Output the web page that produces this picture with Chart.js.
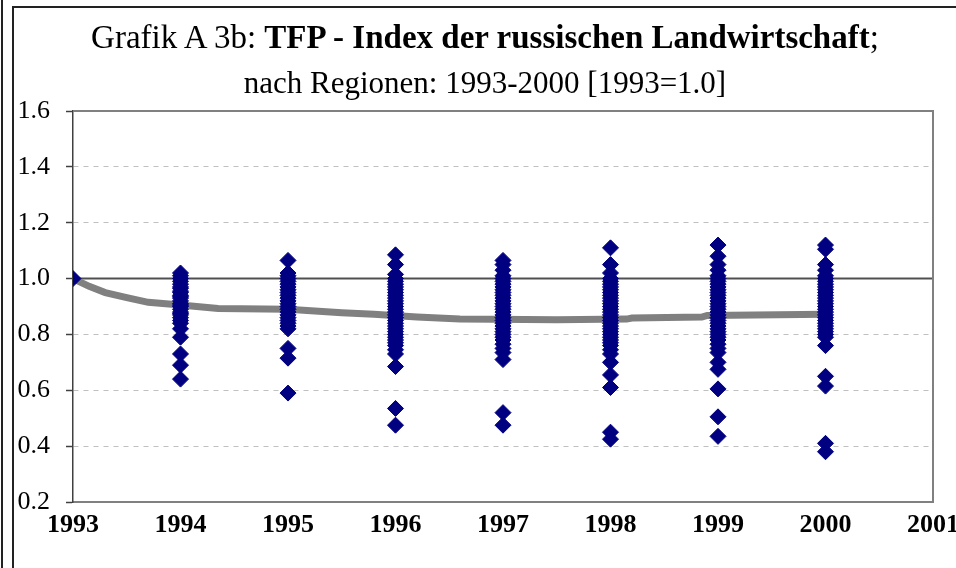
<!DOCTYPE html>
<html>
<head>
<meta charset="utf-8">
<script src="https://cdn.jsdelivr.net/npm/chart.js@4.4.1/dist/chart.umd.min.js"></script>
<style>
html, body { margin: 0; padding: 0; background: #fff; }
#wrap { position: relative; width: 956px; height: 568px; overflow: hidden; background: #fff; }
#lineOuter { position: absolute; left: 1px; top: 0; width: 0; height: 568px; border-left: 2px solid #222; }
#frameInner { position: absolute; left: 12px; top: 6px; width: 1000px; height: 600px; border-left: 2px solid #222; border-top: 2px solid #222; }
.title { position: absolute; left: 14px; width: 942px; text-align: center; white-space: nowrap;
  font-family: 'Liberation Serif', 'Times New Roman', serif; color: #000; }
#title1 { top: 17px; font-size: 33px; line-height: 40px; }
#title2 { top: 64px; font-size: 31px; line-height: 38px; }
.title b { font-weight: bold; }
#chartBox { position: absolute; left: 0; top: 0; }
</style>
</head>
<body>
<div id="wrap">
  <div id="lineOuter"></div>
  <div id="frameInner"></div>
  <canvas id="chartBox" width="1000" height="568"></canvas>
  <div class="title" id="title1">Grafik A 3b: <b>TFP - Index der russischen Landwirtschaft</b>;</div>
  <div class="title" id="title2">nach Regionen: 1993-2000 [1993=1.0]</div>
</div>
<script>
// TFP index per region (1993 = 1.0)
const tfp1993 = [1.0];
const tfp1994 = [1.02, 1.01, 1.0, 0.99, 0.98, 0.97, 0.965, 0.955, 0.95, 0.94, 0.935, 0.93, 0.92, 0.91, 0.905, 0.9,
  0.89, 0.88, 0.875, 0.87, 0.86, 0.85, 0.84, 0.82, 0.79, 0.73, 0.69, 0.64];
const tfp1995 = [1.065, 1.02, 1.01, 1.0, 0.99, 0.98, 0.97, 0.96, 0.95, 0.94, 0.93, 0.92, 0.91, 0.9, 0.89, 0.88,
  0.87, 0.86, 0.85, 0.84, 0.83, 0.82, 0.75, 0.715, 0.59];
const tfp1996 = [1.085, 1.05, 1.015, 1.0, 0.99, 0.98, 0.97, 0.96, 0.95, 0.94, 0.93, 0.92, 0.91, 0.9, 0.89, 0.88,
  0.87, 0.86, 0.85, 0.84, 0.83, 0.82, 0.81, 0.8, 0.79, 0.78, 0.77, 0.76, 0.745, 0.73, 0.685, 0.535, 0.475];
const tfp1997 = [1.065, 1.05, 1.03, 1.01, 1.0, 0.99, 0.98, 0.97, 0.96, 0.95, 0.94, 0.93, 0.92, 0.91, 0.9, 0.89,
  0.88, 0.87, 0.86, 0.85, 0.84, 0.83, 0.82, 0.81, 0.8, 0.79, 0.78, 0.765, 0.75, 0.735, 0.71, 0.52, 0.475];
const tfp1998 = [1.11, 1.05, 1.02, 1.0, 0.99, 0.98, 0.97, 0.96, 0.95, 0.94, 0.93, 0.92, 0.91, 0.9, 0.89, 0.88,
  0.87, 0.86, 0.85, 0.84, 0.83, 0.82, 0.81, 0.8, 0.79, 0.78, 0.77, 0.76, 0.745, 0.73, 0.7, 0.655, 0.61, 0.45, 0.425];
const tfp1999 = [1.12, 1.08, 1.05, 1.03, 1.01, 1.0, 0.99, 0.98, 0.97, 0.96, 0.95, 0.94, 0.93, 0.92, 0.91, 0.9,
  0.89, 0.88, 0.87, 0.86, 0.85, 0.84, 0.83, 0.82, 0.81, 0.8, 0.79, 0.78, 0.765, 0.75, 0.735, 0.7, 0.675, 0.605, 0.505, 0.435];
const tfp2000 = [1.12, 1.105, 1.05, 1.03, 1.01, 1.0, 0.99, 0.98, 0.97, 0.96, 0.95, 0.94, 0.93, 0.92, 0.91, 0.9,
  0.89, 0.88, 0.87, 0.86, 0.85, 0.84, 0.83, 0.82, 0.81, 0.8, 0.79, 0.76, 0.65, 0.615, 0.41, 0.38];

const regionYears = [1993, 1994, 1995, 1996, 1997, 1998, 1999, 2000];
const regionValues = [tfp1993, tfp1994, tfp1995, tfp1996, tfp1997, tfp1998, tfp1999, tfp2000];

// grey average curve
const trendX = [1993, 1993.15, 1993.3, 1993.5, 1993.7, 1994, 1994.35, 1995, 1995.5, 1995.8, 1996.2, 1996.6,
  1997.5, 1998.15, 1998.2, 1998.85, 1998.9, 2000];
const trendY = [1.0, 0.972, 0.95, 0.932, 0.915, 0.905, 0.893, 0.89, 0.878, 0.872, 0.862, 0.855,
  0.853, 0.855, 0.859, 0.862, 0.868, 0.872];

// horizontal axis crosses at 1.0
const axisCrossX = [1993, 2001];
const axisCrossY = [1.0, 1.0];

const yMin = 0.2, yMax = 1.6, yStep = 0.2;
const xMin = 1993, xMax = 2001;

const points = [];
regionYears.forEach((yr, i) => {
    regionValues[i].forEach(v => points.push({ x: yr, y: v }));
});

const plotFrame = {
    id: 'plotFrame',
    afterDatasetsDraw(chart) {
        const { ctx, chartArea: a } = chart;
        ctx.save();
        ctx.strokeStyle = '#808080';
        ctx.lineWidth = 2;
        ctx.beginPath();
        ctx.moveTo(a.left, a.top);
        ctx.lineTo(a.right, a.top);
        ctx.lineTo(a.right, a.bottom);
        ctx.stroke();
        ctx.restore();
    }
};

const isSolid = v => Math.abs(v - 0.2) < 1e-6 || Math.abs(v - 1.0) < 1e-6 || Math.abs(v - 1.6) < 1e-6;

new Chart(document.getElementById('chartBox'), {
    type: 'scatter',
    data: {
        datasets: [
            {
                label: 'Regionen',
                data: points,
                pointStyle: 'rectRot',
                pointRadius: 8,
                borderWidth: 1,
                backgroundColor: '#000080',
                borderColor: '#000080'
            },
            {
                type: 'line',
                label: 'Durchschnitt',
                data: trendX.map((x, i) => ({ x, y: trendY[i] })),
                borderColor: '#808080',
                borderWidth: 7,
                pointRadius: 0,
                fill: false
            },
            {
                type: 'line',
                label: 'Achse',
                data: axisCrossX.map((x, i) => ({ x, y: axisCrossY[i] })),
                borderColor: '#505050',
                borderWidth: 2,
                pointRadius: 0,
                fill: false
            }
        ]
    },
    options: {
        responsive: false,
        animation: false,
        layout: { padding: { left: 13, top: 111, right: 67, bottom: 0 } },
        plugins: { legend: { display: false }, tooltip: { enabled: false } },
        scales: {
            x: {
                type: 'linear',
                min: xMin,
                max: xMax,
                ticks: {
                    stepSize: 1,
                    padding: 8,
                    color: '#000',
                    font: { family: "'Liberation Serif', serif", size: 26, weight: 'bold' },
                    callback: v => String(v)
                },
                grid: { display: false, drawTicks: false },
                border: { display: true, color: '#808080', width: 2 },
                afterFit: s => { s.height = 66; }
            },
            y: {
                min: yMin,
                max: yMax,
                ticks: {
                    stepSize: yStep,
                    padding: 16,
                    color: '#000',
                    font: { family: "'Liberation Serif', serif", size: 26 },
                    callback: v => v.toFixed(1)
                },
                grid: {
                    color: c => isSolid(c.tick.value) ? 'rgba(0,0,0,0)' : '#c0c0c0',
                    lineWidth: 1,
                    tickLength: 7,
                    tickColor: '#404040',
                    tickWidth: 1.5
                },
                border: { display: true, color: '#404040', width: 1.5, dash: [5, 5] },
                afterFit: s => { s.width = 60; }
            }
        }
    },
    plugins: [plotFrame]
});
</script>
</body>
</html>
